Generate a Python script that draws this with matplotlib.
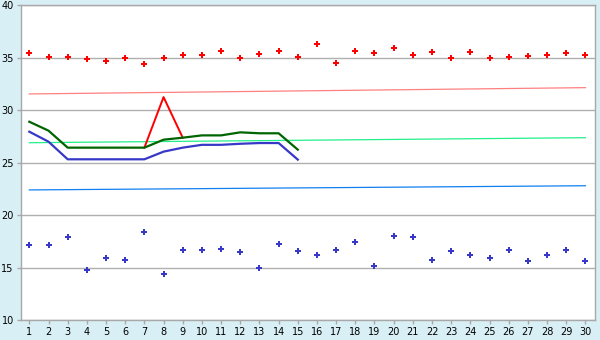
import numpy as np
import matplotlib
matplotlib.use('Agg')
import matplotlib.pyplot as plt

# data
days = list(range(1, 31))
red_pts = [35.43, 35.05, 35.05, 34.86, 34.67, 34.95, 34.38, 34.95, 35.24, 35.24,
           35.62, 34.95, 35.33, 35.62, 35.05, 36.29, 34.48, 35.62, 35.43, 35.9,
           35.24, 35.52, 34.95, 35.52, 34.95, 35.05, 35.14, 35.24, 35.43, 35.24]
blue_pts = [17.13, 17.13, 17.9, 14.75, 15.89, 15.7, 18.38, 14.36, 16.66, 16.66,
            16.75, 16.46, 14.94, 17.23, 16.56, 16.18, 16.66, 17.42, 15.13, 17.99,
            17.9, 15.7, 16.56, 16.18, 15.89, 16.66, 15.6, 16.18, 16.66, 15.6]
line_days = list(range(1, 16))
green_line = [28.9, 28.05, 26.43, 26.43, 26.43, 26.43, 26.43, 27.19, 27.38, 27.6,
              27.6, 27.89, 27.8, 27.8, 26.24]
blue_line = [27.95, 27.0, 25.32, 25.32, 25.32, 25.32, 25.32, 26.05, 26.43, 26.7,
             26.7, 26.8, 26.87, 26.87, 25.29]
red_days = [7, 8, 9]
red_line = [26.43, 31.25, 27.38]
trend_ends = [1, 30]
pink_trend = [31.55, 32.15]
lgreen_trend = [26.9, 27.38]
lblue_trend = [22.4, 22.8]

bg = '#D9EFF6'
fig = plt.figure(figsize=(6, 3.4), dpi=100, facecolor=bg)
ax = fig.add_axes([0.0345, 0.0588, 0.9572, 0.9256])
ax.set_facecolor('white')

ax.plot(trend_ends, pink_trend, color='#FF8080', lw=0.9)
ax.plot(trend_ends, lgreen_trend, color='#22F08A', lw=0.9)
ax.plot(trend_ends, lblue_trend, color='#1080F0', lw=0.9)

ax.plot(red_days, red_line, color='#FF0000', lw=1.4)
ax.plot(line_days, blue_line, color='#3838C8', lw=1.6)
ax.plot(line_days, green_line, color='#006400', lw=1.6)

ax.plot(days, red_pts, 'P', color='#FF0000', ms=4.6, mew=0, ls='none')
ax.plot(days, blue_pts, 'P', color='#3838C8', ms=4.6, mew=0, ls='none')

ax.set_xlim(0.55, 30.5)
ax.set_ylim(10, 40)
ax.set_xticks(days)
ax.set_yticks(range(10, 41, 5))
ax.yaxis.grid(True, color='#B0B0B0', lw=1)
ax.set_axisbelow(True)
for s in ax.spines.values():
    s.set_color('#A8A8A8')
    s.set_linewidth(1)
ax.tick_params(axis='both', colors='#A8A8A8', labelcolor='black', labelsize=7,
               length=3, width=1, pad=2)

fig.savefig('out.png', dpi=100, facecolor=bg)
